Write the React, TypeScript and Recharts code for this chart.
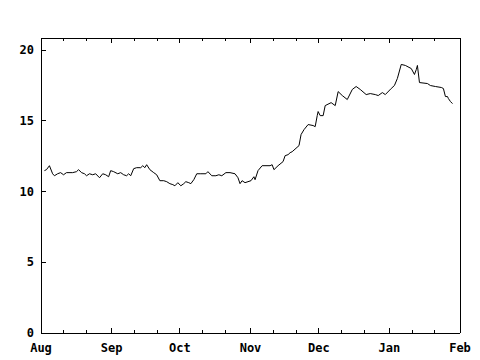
import React from "react"
import { LineChart, Line, XAxis, YAxis } from "recharts"

// day index counted from Aug 1
const days = [
  1.5, 2.4, 3.7, 5.1, 5.9, 7.3, 8.6, 9.9, 11.2, 13.9, 15.6, 16.5, 17.8, 19.1, 20.0, 21.3, 22.7, 24.0, 25.7, 27.1,
  28.4, 29.7, 30.6, 31.9, 33.7, 35.0, 36.3, 37.6, 38.5, 39.4, 40.7, 42.0, 43.8, 44.7, 45.6, 46.4, 47.8, 49.5, 50.8,
  52.2, 53.9, 55.2, 56.6, 57.9, 58.8, 60.1, 61.4, 62.7, 63.6, 64.9, 65.8, 67.1, 68.4, 70.2, 72.4, 73.3, 75.0, 76.8,
  78.1, 79.4, 81.2, 83.0, 85.2, 86.5, 87.4, 88.3, 89.6, 90.9, 92.2, 93.5, 94.0, 95.3, 97.1, 100.6, 101.5, 102.3,
  104.1, 106.3, 107.2, 108.5, 109.4, 110.3, 113.3, 114.2, 115.5, 117.3, 119.5, 120.4, 121.3, 121.7, 122.6, 123.9,
  124.8, 127.4, 129.2, 130.5, 132.3, 134.5, 136.7, 138.4, 140.2, 142.8, 144.6, 146.8, 148.1, 149.9, 151.2, 153.8,
  155.2, 156.5, 158.2, 160.0, 162.6, 164.0, 164.8, 165.3, 166.2, 169.7, 171.0, 173.2, 175.8, 176.7, 177.6, 178.5,
  178.9, 179.8, 180.7,
]

const values = [
  11.48, 11.55, 11.83, 11.26, 11.12, 11.26, 11.34, 11.19, 11.34, 11.34, 11.41, 11.55, 11.34, 11.26, 11.12, 11.26,
  11.19, 11.26, 10.98, 11.26, 11.19, 11.05, 11.48, 11.41, 11.26, 11.34, 11.19, 11.12, 11.26, 11.12, 11.62, 11.69,
  11.69, 11.83, 11.69, 11.9, 11.55, 11.34, 11.19, 10.77, 10.77, 10.7, 10.56, 10.49, 10.41, 10.63, 10.41, 10.56,
  10.7, 10.63, 10.56, 10.84, 11.26, 11.26, 11.26, 11.41, 11.12, 11.12, 11.19, 11.12, 11.34, 11.34, 11.26, 10.98,
  10.56, 10.77, 10.63, 10.7, 10.77, 11.05, 10.84, 11.48, 11.83, 11.83, 11.9, 11.55, 11.83, 12.12, 12.54, 12.61,
  12.75, 12.82, 13.25, 14.03, 14.38, 14.74, 14.67, 14.59, 15.37, 15.66, 15.37, 15.37, 16.08, 16.29, 16.08, 17.07,
  16.79, 16.51, 17.22, 17.43, 17.22, 16.86, 16.93, 16.86, 16.79, 17.0, 16.86, 17.29, 17.5, 18.0, 18.99, 18.92,
  18.7, 18.28, 18.63, 18.92, 17.71, 17.64, 17.5, 17.43, 17.36, 17.29, 16.72, 16.72, 16.58, 16.37, 16.22,
]

const monthStarts = [0, 31, 61, 92, 122, 153, 184]
const monthLabels = ["Aug", "Sep", "Oct", "Nov", "Dec", "Jan", "Feb"]
const minorDays = [10, 20, 41, 51, 71, 81, 102, 112, 132, 142, 163, 173]
const yTicks = [0, 5, 10, 15, 20]

const data = days.map((d, i) => ({ day: d, value: values[i] }))
const xTicks = [...monthStarts, ...minorDays].sort((a, b) => a - b)

const FONT = "'DejaVu Sans Mono', monospace"

const BottomTick = ({ x, y, payload }: any) => {
  const idx = monthStarts.indexOf(payload.value)
  const major = idx >= 0
  return (
    <g>
      <line x1={x} y1={y} x2={x} y2={y - (major ? 5 : 3)} stroke="#000" shapeRendering="crispEdges" />
      {major && (
        <text x={x} y={y + 19} textAnchor="middle" fontFamily={FONT} fontWeight="bold" fontSize={12} fill="#000">
          {monthLabels[idx]}
        </text>
      )}
    </g>
  )
}

const TopTick = ({ x, y, payload }: any) => {
  const major = monthStarts.includes(payload.value)
  return <line x1={x} y1={y} x2={x} y2={y + (major ? 5 : 3)} stroke="#000" shapeRendering="crispEdges" />
}

const LeftTick = ({ x, y, payload }: any) => (
  <g>
    <line x1={x} y1={y} x2={x + 5} y2={y} stroke="#000" shapeRendering="crispEdges" />
    <text x={x - 7} y={y + 4} textAnchor="end" fontFamily={FONT} fontWeight="bold" fontSize={12} fill="#000">
      {payload.value}
    </text>
  </g>
)

const RightTick = ({ x, y }: any) => (
  <line x1={x} y1={y} x2={x - 5} y2={y} stroke="#000" shapeRendering="crispEdges" />
)

export default function App() {
  const axisLine = { stroke: "#000", shapeRendering: "crispEdges" }
  return (
    <div style={{ position: "absolute", left: 0, top: 0, width: 480, height: 360, background: "#fff" }}>
      <LineChart width={480} height={360} data={data} margin={{ top: 37, right: 19, bottom: 7, left: 0 }}>
        <XAxis
          xAxisId="bottom"
          dataKey="day"
          type="number"
          domain={[0, 184]}
          ticks={xTicks}
          interval={0}
          height={20}
          tickSize={0}
          tickMargin={0}
          tickLine={false}
          axisLine={axisLine}
          tick={<BottomTick />}
        />
        <XAxis
          xAxisId="top"
          orientation="top"
          dataKey="day"
          type="number"
          domain={[0, 184]}
          ticks={xTicks}
          interval={0}
          height={1}
          tickSize={0}
          tickMargin={0}
          tickLine={false}
          axisLine={axisLine}
          tick={<TopTick />}
        />
        <YAxis
          yAxisId="left"
          type="number"
          domain={[0, 20.86]}
          ticks={yTicks}
          interval={0}
          width={41}
          tickSize={0}
          tickMargin={0}
          tickLine={false}
          axisLine={axisLine}
          tick={<LeftTick />}
        />
        <YAxis
          yAxisId="right"
          orientation="right"
          type="number"
          domain={[0, 20.86]}
          ticks={yTicks}
          interval={0}
          width={1}
          tickSize={0}
          tickMargin={0}
          tickLine={false}
          axisLine={axisLine}
          tick={<RightTick />}
        />
        <Line
          xAxisId="bottom"
          yAxisId="left"
          type="linear"
          dataKey="value"
          stroke="#000"
          strokeWidth={1}
          dot={false}
          isAnimationActive={false}
        />
      </LineChart>
    </div>
  )
}
